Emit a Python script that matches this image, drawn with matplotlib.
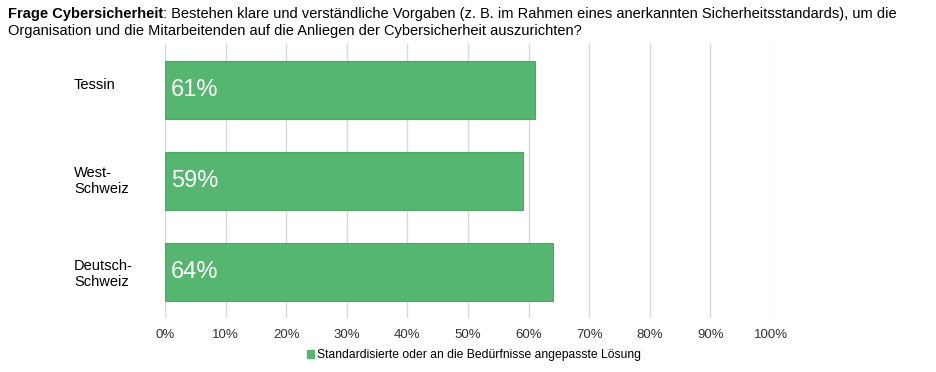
import matplotlib
matplotlib.use("Agg")
from matplotlib import pyplot as plt
from matplotlib.patches import Patch

plt.rcParams['font.family'] = ['Liberation Sans', 'DejaVu Sans']

# Daten
regionen = ['Tessin', 'West-\nSchweiz', 'Deutsch-\nSchweiz']
anteile = [61, 59, 64]
serie = 'Standardisierte oder an die Bedürfnisse angepasste Lösung'
ticks = list(range(0, 101, 10))
farbe = '#55b76f'

fig = plt.figure(figsize=(9.36, 3.72), dpi=100)
ax = fig.add_axes([0.1763, 0.1465, 0.6474, 0.7339])

pos = list(range(len(regionen)))
ax.barh(pos, anteile, height=0.63, color=farbe, edgecolor='#4aa863', linewidth=0.8, zorder=3)
for p, v in zip(pos, anteile):
    ax.text(1.0, p, f'{v}%', color='white', fontsize=17, va='center', ha='left', zorder=4)

ax.set_xlim(0, 100)
ax.set_ylim(len(regionen) - 0.5, -0.5)
ax.set_xticks(ticks)
ax.set_xticklabels([f'{t}%' for t in ticks], fontsize=9.5, color='#333333')
ax.set_yticks([])
ax.grid(axis='x', color='#d9d9d9', linewidth=1, zorder=0)
ax.tick_params(axis='x', length=0, pad=8)
for s in ax.spines.values():
    s.set_visible(False)

# Kategorien links (einzeilige Beschriftung sitzt etwas höher)
versatz = [-5, 0, 2]
for p, name, dy in zip(pos, regionen, versatz):
    fig.text(74 / 936, 1 - (90 + 91 * p + dy) / 372, name, fontsize=10.5, va='center', ha='left')

# Titel mit fettem Anfang
t1 = fig.text(8 / 936, 1 - 14 / 372, 'Frage Cybersicherheit', fontsize=10.5, fontweight='bold', va='center')
fig.canvas.draw()
bb = t1.get_window_extent()
fig.text(bb.x1 / 936, 1 - 14 / 372,
         ': Bestehen klare und verständliche Vorgaben (z. B. im Rahmen eines anerkannten Sicherheitsstandards), um die',
         fontsize=10.5, va='center')
fig.text(8 / 936, 1 - 31 / 372,
         'Organisation und die Mitarbeitenden auf die Anliegen der Cybersicherheit auszurichten?',
         fontsize=10.5, va='center')

fig.legend(handles=[Patch(color=farbe, label=serie)], loc='center', bbox_to_anchor=(474 / 936, 1 - 355 / 372),
           frameon=False, fontsize=8.7, handlelength=0.6, handleheight=0.6, handletextpad=0.3)

fig.savefig('out.png', dpi=100)
